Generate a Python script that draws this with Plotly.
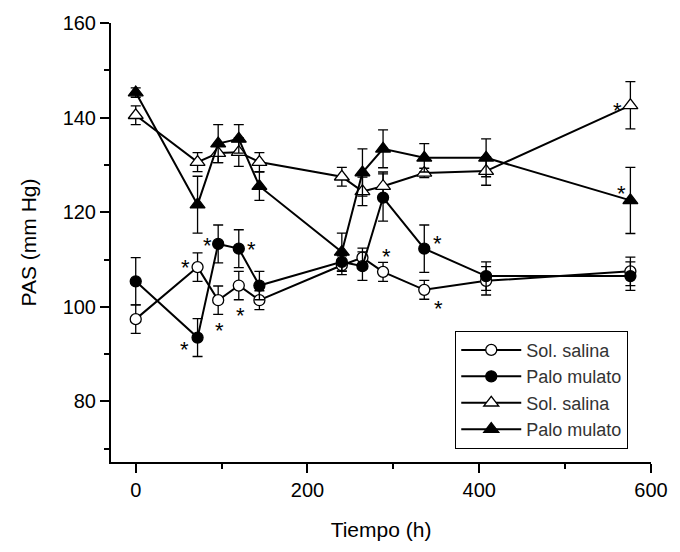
import plotly.graph_objects as go

# ---------------- data ----------------
time_h = [0, 72, 96, 120, 144, 240, 264, 288, 336, 408, 576]

sal_circ = [97.4, 108.4, 101.4, 104.5, 101.4, 108.8, 110.4, 107.4, 103.6, 105.5, 107.5]
sal_circ_err = [3, 3, 3, 3, 2, 2, 2, 2, 2, 3, 3]

pm_circ = [105.4, 93.5, 113.3, 112.3, 104.5, 109.5, 108.6, 123.1, 112.3, 106.5, 106.5]
pm_circ_err = [5, 4, 4, 4, 3, 2, 3, 5, 5, 3, 3]

sal_tri = [140.5, 130.6, 132.5, 132.7, 130.6, 127.5, 124.4, 125.5, 128.3, 128.7, 142.6]
sal_tri_err = [2, 2, 2, 3, 2, 2, 3, 3, 1, 3, 5]

pm_tri = [145.3, 121.6, 134.5, 135.5, 125.5, 111.6, 128.4, 133.4, 131.5, 131.5, 122.5]
pm_tri_err = [1, 6, 4, 3, 3, 4, 5, 4, 3, 4, 7]

legend_names = ["Sol. salina", "Palo mulato", "Sol. salina", "Palo mulato"]

x_ticks = [0, 200, 400, 600]
y_ticks = [80, 100, 120, 140, 160]

# significant points: (series index, time index)
signif = [(0, 1), (1, 1), (1, 2), (0, 2), (1, 3), (0, 3), (0, 7), (1, 8), (0, 8), (2, 10), (3, 10)]

# ---------------- styling ----------------
FONT = "Arial, 'Liberation Sans', sans-serif"
series = [
    (sal_circ, sal_circ_err, "circle", "white", 11),
    (pm_circ, pm_circ_err, "circle", "black", 11),
    (sal_tri, sal_tri_err, "triangle-up", "white", 13),
    (pm_tri, pm_tri_err, "triangle-up", "black", 13),
]

fig = go.Figure()
for (vals, err, sym, fill, size), name in zip(series, legend_names):
    fig.add_trace(go.Scatter(
        x=time_h, y=vals, name=name, mode="lines+markers",
        line=dict(color="black", width=2),
        marker=dict(symbol=sym, size=size, color=fill,
                    line=dict(color="black", width=1.3)),
        error_y=dict(type="data", array=err, color="black",
                     thickness=1.3, width=5),
    ))

# asterisk offsets in screen pixels (dx right, dy down) per significant point
ast_offsets = [(-12, -6), (-13, 6), (-11, -4), (1, 24), (13, -5), (2, 24),
               (3, -21), (13, -11), (14, 13), (-13, -1), (-9, -13)]
all_vals = [sal_circ, pm_circ, sal_tri, pm_tri]
for (si, ti), (dx, dy) in zip(signif, ast_offsets):
    fig.add_annotation(
        x=time_h[ti], y=all_vals[si][ti], text="*", showarrow=False,
        xshift=dx, yshift=-dy - 6,
        font=dict(family=FONT, size=22, color="black"),
        xanchor="center", yanchor="middle",
    )

axis_common = dict(
    showline=True, linecolor="black", linewidth=2,
    ticks="outside", ticklen=9, tickwidth=2, tickcolor="black",
    showgrid=False, zeroline=False,
    tickfont=dict(family=FONT, size=20, color="black"),
)

fig.update_layout(
    width=680, height=552,
    margin=dict(l=111, r=23, t=22, b=90),
    paper_bgcolor="white", plot_bgcolor="white",
    font=dict(family=FONT, color="black"),
    xaxis=dict(
        range=[-28.8, 600], tickvals=x_ticks,
        minor=dict(ticks="outside", ticklen=5, tickwidth=2, tickcolor="black",
                   dtick=100, tick0=0, showgrid=False),
        title=dict(text="Tiempo (h)", font=dict(family=FONT, size=21, color="black"),
                   standoff=22),
        **axis_common,
    ),
    yaxis=dict(
        range=[67.2, 160], tickvals=y_ticks,
        minor=dict(ticks="outside", ticklen=5, tickwidth=2, tickcolor="black",
                   dtick=10, tick0=0, showgrid=False),
        title=dict(text="PAS (mm Hg)", font=dict(family=FONT, size=21, color="black"),
                   standoff=20),
        **axis_common,
    ),
    legend=dict(
        x=0.6375, y=0.299, xanchor="left", yanchor="top",
        bordercolor="black", borderwidth=1, bgcolor="white",
        font=dict(family=FONT, size=18, color="#333333"),
        tracegroupgap=0, itemwidth=60,
    ),
    showlegend=True,
)

fig.write_html("out.html")
